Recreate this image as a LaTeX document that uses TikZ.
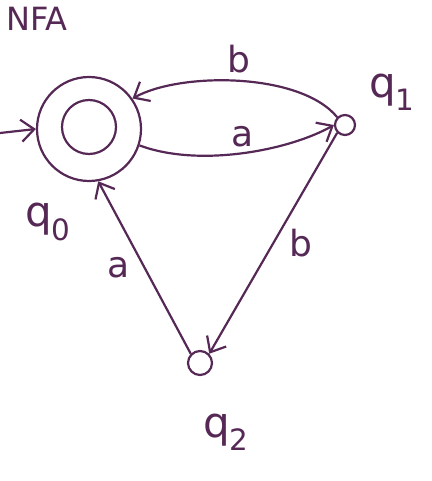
\documentclass[tikz,border=0pt]{standalone}
\usepackage{fontspec}
\setmainfont{DejaVu Sans}
\usepackage{tikz}
\usetikzlibrary{arrows.meta,positioning}
\definecolor{ink}{RGB}{85,40,85}

\begin{document}
\begin{tikzpicture}[x=1pt, y=-1pt, >={Straight Barb[length=13pt,width=22pt]},
    ink, line width=2.2pt,
    state/.style={draw, circle, inner sep=0pt},
    lbl/.style={font=\fontsize{36}{36}\selectfont},
    qname/.style={font=\fontsize{42}{42}\selectfont}]
\useasboundingbox (0,0) rectangle (431,481);

\node[font=\fontsize{32}{32}\selectfont, anchor=base west] (title) at (2,31) {NFA};

% states
\node[state, minimum size=104pt] (q0) at (89,129) {};
\node[state, minimum size=54pt] (q0in) at (89,127) {};
\node[state, minimum size=20pt] (q1) at (345,125) {};
\node[state, minimum size=24pt] (q2) at (200,363) {};

\node[qname] (q0name) at (48,222) {q\textsubscript{0}};
\node[qname] (q1name) at (392,92) {q\textsubscript{1}};
\node[qname] (q2name) at (226,432) {q\textsubscript{2}};

% start
\coordinate (start) at (0,133);
\draw[->] (start) -- (q0.west);

% transitions
\draw[->] (q1.north west) .. controls (300,72) and (180,72) .. (q0.35)
    node[lbl, pos=0.5, above=4pt] (lb1) {b};
\draw[->] (q0.-18) .. controls (200,168) and (290,150) .. (q1.west)
    node[lbl, pos=0.5, above=2pt] (la1) {a};
\draw[->] (q1.south west) -- (q2.north east)
    node[lbl, pos=0.5, right=12pt] (lb2) {b};
\draw[->] (q2.north west) -- (q0.-80)
    node[lbl, pos=0.5, left=10pt] (la2) {a};

\end{tikzpicture}
\end{document}
